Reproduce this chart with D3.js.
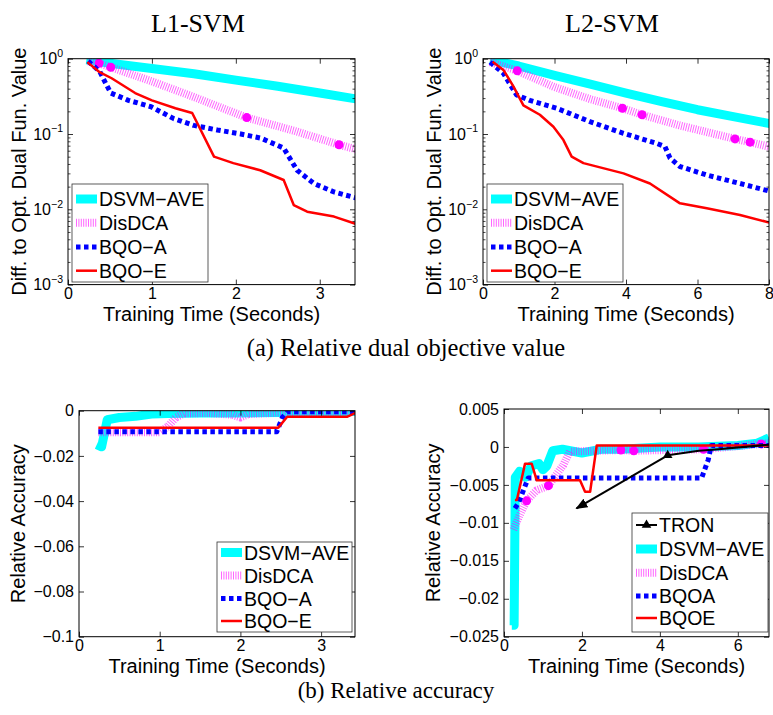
<!DOCTYPE html>
<html><head><meta charset="utf-8">
<script src="https://cdn.jsdelivr.net/npm/d3@7"></script>
<style>
body{margin:0;background:#fff;}
svg{display:block;}
text{fill:#000;}
</style></head><body>
<svg id="chart" width="773" height="715"></svg>
<script>
// ---------- DATA ----------
const seriesNames = ["DSVM\u2212AVE", "DisDCA", "BQO\u2212A", "BQO\u2212E"];
const seriesNamesAcc2 = ["TRON", "DSVM\u2212AVE", "DisDCA", "BQOA", "BQOE"];
const panelTitles = ["L1-SVM", "L2-SVM"];
const captions = ["(a) Relative dual objective value", "(b) Relative accuracy"];

// (a) L1-SVM dual objective gap
const dualL1_DSVM = [[0.22,0.97],[0.5,0.87],[1.0,0.74],[1.5,0.63],[2.0,0.52],[2.5,0.43],[3.0,0.35],[3.45,0.29]];
const dualL1_DisDCA = [[0.24,0.92],[0.37,0.87],[0.51,0.77],[1.0,0.50],[1.5,0.31],[2.13,0.165],[2.7,0.11],[3.23,0.072],[3.45,0.062]];
const dualL1_DisDCAmarks = [[0.37,0.87],[0.51,0.77],[2.13,0.165],[3.23,0.072]];
const dualL1_BQOA = [[0.24,0.93],[0.38,0.67],[0.45,0.47],[0.51,0.35],[0.72,0.28],[0.99,0.23],[1.26,0.16],[1.5,0.13],[1.78,0.113],[2.06,0.1],[2.3,0.088],[2.57,0.065],[2.73,0.033],[2.93,0.022],[3.17,0.017],[3.45,0.014]];
const dualL1_BQOE = [[0.23,0.9],[0.37,0.67],[0.52,0.55],[0.8,0.35],[1.0,0.28],[1.28,0.22],[1.48,0.19],[1.74,0.05],[1.97,0.041],[2.29,0.033],[2.57,0.0245],[2.69,0.0114],[2.85,0.0093],[3.17,0.008],[3.45,0.0063]];

// (a) L2-SVM dual objective gap
const dualL2_DSVM = [[0.2,0.97],[1,0.8],[2,0.6],[3,0.46],[4,0.35],[5,0.27],[6,0.21],[7,0.17],[8.1,0.135]];
const dualL2_DisDCA = [[0.2,0.9],[0.96,0.69],[2,0.42],[3.0,0.29],[3.9,0.22],[4.45,0.18],[5.5,0.13],[6.3,0.105],[7.05,0.086],[7.47,0.078],[8.1,0.066]];
const dualL2_DisDCAmarks = [[0.96,0.69],[3.9,0.22],[4.45,0.18],[7.05,0.086],[7.47,0.078]];
const dualL2_BQOA = [[0.2,0.9],[0.57,0.64],[0.94,0.33],[1.31,0.28],[2.06,0.22],[2.99,0.146],[3.93,0.102],[4.86,0.075],[5.09,0.068],[5.23,0.048],[5.51,0.037],[6.26,0.0285],[7.19,0.022],[8.1,0.017]];
const dualL2_BQOE = [[0.27,0.91],[0.57,0.71],[0.85,0.43],[1.13,0.24],[1.59,0.18],[1.97,0.125],[2.25,0.083],[2.48,0.05],[2.81,0.041],[3.93,0.03],[4.67,0.022],[5.51,0.012],[6.26,0.0103],[7.19,0.0084],[8.1,0.0065]];

// (b) L1-SVM relative accuracy
const accL1_DSVM = [[0.22,-0.015],[0.28,-0.016],[0.35,-0.004],[0.5,-0.003],[0.7,-0.0025],[0.9,-0.0015],[1.1,-0.0012],[1.5,-0.001],[2.0,-0.001],[2.5,-0.0008],[3.0,-0.0005],[3.45,-0.0003]];
const accL1_DisDCA = [[0.24,-0.0095],[1.0,-0.0095],[1.1,-0.007],[1.2,-0.003],[1.3,-0.0012],[1.6,-0.001],[1.9,-0.0018],[2.0,-0.003],[2.1,-0.0015],[2.5,-0.0008],[3.45,-0.0003]];
const accL1_BQOA = [[0.24,-0.0093],[2.45,-0.0093],[2.52,-0.003],[2.58,-0.0005],[3.45,-0.0005]];
const accL1_BQOE = [[0.24,-0.0075],[2.47,-0.0075],[2.58,-0.0027],[3.32,-0.0027],[3.45,-0.0006]];

// (b) L2-SVM relative accuracy
const accL2_TRON = [[4.2,-0.0011],[5.0,-0.0005],[5.5,-0.0003],[6.8,0.0003]];
const accL2_TRONarrow = [[4.2,-0.0011],[1.86,-0.0081]];
const accL2_DSVM = [[0.2,-0.0235],[0.26,-0.0235],[0.29,-0.004],[0.4,-0.0032],[0.55,-0.004],[0.7,-0.0025],[0.9,-0.0022],[1.0,-0.003],[1.1,-0.0025],[1.25,-0.0005],[1.5,-0.0003],[2.0,-0.0008],[2.5,-0.0003],[3,-0.0003],[4,0],[5,0],[6,0.0002],[6.5,0.0005],[6.8,0.0012]];
const accL2_DisDCA = [[0.24,-0.0109],[0.4,-0.009],[0.58,-0.0071],[0.84,-0.0057],[1.14,-0.0051],[1.52,-0.0024],[1.69,-0.0006],[3.0,-0.0004],[3.33,-0.0005],[5.12,-0.0003],[6.6,0.0004],[6.8,0.0005]];
const accL2_DisDCAmarks = [[0.58,-0.0071],[1.14,-0.0051],[3.0,-0.0004],[3.33,-0.0005],[5.12,-0.0003],[6.6,0.0004]];
const accL2_BQOA = [[0.28,-0.0081],[0.38,-0.0073],[0.62,-0.0041],[5.07,-0.0041],[5.24,-0.0017],[5.32,0.0002],[6.8,0.0002]];
const accL2_BQOE = [[0.28,-0.007],[0.33,-0.007],[0.54,-0.0022],[0.71,-0.0022],[0.84,-0.0044],[1.95,-0.0044],[2.08,-0.0059],[2.21,-0.0059],[2.38,0.0002],[6.8,0.0002]];

// tick values
const ticksX_L1 = [0,1,2,3];
const ticksX_L2dual = [0,2,4,6,8];
const ticksX_L2acc = [0,2,4,6];
const ticksY_log = [1e-3,1e-2,1e-1,1];
const ticksY_accL1 = [-0.1,-0.08,-0.06,-0.04,-0.02,0];
const ticksY_accL2 = [-0.025,-0.02,-0.015,-0.01,-0.005,0,0.005];

// ---------- STYLES ----------
const style = {
  "DSVM": {stroke:"#00ffff", width:9, dash:null, opacity:1},
  "DisDCA": {stroke:"#ff00ff", width:8, dash:"1,1.4", opacity:0.6},
  "BQOA": {stroke:"#0000ff", width:5, dash:"4.5,3.5", opacity:1},
  "BQOE": {stroke:"#ff0000", width:2.5, dash:null, opacity:1},
  "TRON": {stroke:"#000000", width:2, dash:null, opacity:1}
};
const SANS = "'Liberation Sans', Arial, Helvetica, sans-serif";
const SERIF = "'Liberation Serif', 'Times New Roman', serif";

const svg = d3.select("#chart");
const defs = svg.append("defs");
defs.append("marker").attr("id","arrowhead").attr("viewBox","0 0 10 10")
  .attr("refX",9).attr("refY",5).attr("markerWidth",12).attr("markerHeight",12)
  .attr("markerUnits","userSpaceOnUse").attr("orient","auto")
  .append("path").attr("d","M0,1 L10,5 L0,9 Z").attr("fill","#000");

const panels = [
  {box:[68,58.7,355,284.6], xDomain:[0,3.42], xTicks:ticksX_L1, log:true, yDomain:[1e-3,1], yTicks:ticksY_log,
   ylabel:"Diff. to Opt. Dual Fun. Value", ylabelX:26,
   series:[["DSVM",dualL1_DSVM],["DisDCA",dualL1_DisDCA],["BQOA",dualL1_BQOA],["BQOE",dualL1_BQOE]],
   marks:dualL1_DisDCAmarks, names:seriesNames, legend:{x:72,y:184,w:136,h:98,items:[199,222.7,247,270.7]}, keys:["DSVM","DisDCA","BQOA","BQOE"]},
  {box:[483,58.7,769,284.6], xDomain:[0,8], xTicks:ticksX_L2dual, log:true, yDomain:[1e-3,1], yTicks:ticksY_log,
   ylabel:"Diff. to Opt. Dual Fun. Value", ylabelX:441,
   series:[["DSVM",dualL2_DSVM],["DisDCA",dualL2_DisDCA],["BQOA",dualL2_BQOA],["BQOE",dualL2_BQOE]],
   marks:dualL2_DisDCAmarks, names:seriesNames, legend:{x:487,y:184,w:136,h:98,items:[199,222.7,247,270.7]}, keys:["DSVM","DisDCA","BQOA","BQOE"]},
  {box:[79,410.7,355,636.7], xDomain:[0,3.42], xTicks:ticksX_L1, log:false, yDomain:[-0.1,0], yTicks:ticksY_accL1,
   ylabel:"Relative Accuracy", ylabelX:25, yFmt:d3.format(".2~f"),
   series:[["DSVM",accL1_DSVM],["DisDCA",accL1_DisDCA],["BQOA",accL1_BQOA],["BQOE",accL1_BQOE]],
   marks:[], names:seriesNames, legend:{x:217,y:542,w:135,h:90,items:[552.5,575.5,598.5,621]}, keys:["DSVM","DisDCA","BQOA","BQOE"]},
  {box:[504,409,769,636.7], xDomain:[0,6.8], xTicks:ticksX_L2acc, log:false, yDomain:[-0.025,0.005], yTicks:ticksY_accL2,
   ylabel:"Relative Accuracy", ylabelX:440, yFmt:d3.format(".3~f"),
   series:[["DSVM",accL2_DSVM],["DisDCA",accL2_DisDCA],["BQOA",accL2_BQOA],["BQOE",accL2_BQOE],["TRON",accL2_TRON]],
   marks:accL2_DisDCAmarks, arrow:accL2_TRONarrow, names:seriesNamesAcc2,
   legend:{x:632,y:513,w:136,h:119,items:[525,549,572.7,596,618]}, keys:["TRON","DSVM","DisDCA","BQOA","BQOE"]}
];

panels.forEach((p,i)=>{
  const [x0,y0,x1,y1] = p.box;
  const x = d3.scaleLinear().domain(p.xDomain).range([x0,x1]);
  const y = (p.log ? d3.scaleLog() : d3.scaleLinear()).domain(p.yDomain).range([y1,y0]);
  const g = svg.append("g");
  const cid = "clip"+i;
  defs.append("clipPath").attr("id",cid).append("rect").attr("x",x0).attr("y",y0).attr("width",x1-x0).attr("height",y1-y0);

  // series
  const line = d3.line().x(d=>x(d[0])).y(d=>y(d[1]));
  const sg = g.append("g").attr("clip-path",`url(#${cid})`);
  p.series.forEach(([k,data])=>{
    const s = style[k];
    sg.append("path").attr("d",line(data)).attr("fill","none")
      .attr("stroke",s.stroke).attr("stroke-width",s.width)
      .attr("stroke-dasharray",s.dash).attr("stroke-opacity",s.opacity)
      .attr("stroke-linejoin","round");
    if(k==="DisDCA"){
      sg.selectAll(null).data(p.marks).enter().append("circle")
        .attr("cx",d=>x(d[0])).attr("cy",d=>y(d[1])).attr("r",4.5).attr("fill","#ff00ff");
    }
    if(k==="TRON"){
      sg.append("path").attr("d",d3.symbol(d3.symbolTriangle,40)())
        .attr("transform",`translate(${x(data[0][0])},${y(data[0][1])})`).attr("fill","#000");
    }
  });
  if(p.arrow){
    g.append("line").attr("x1",x(p.arrow[0][0])).attr("y1",y(p.arrow[0][1]))
      .attr("x2",x(p.arrow[1][0])).attr("y2",y(p.arrow[1][1]))
      .attr("stroke","#000").attr("stroke-width",2).attr("marker-end","url(#arrowhead)");
  }

  // box
  g.append("rect").attr("x",x0).attr("y",y0).attr("width",x1-x0).attr("height",y1-y0)
    .attr("fill","none").attr("stroke","#000").attr("stroke-width",1);

  // axes
  const tk = 5;
  const xb = g.append("g").attr("transform",`translate(0,${y1})`)
    .call(d3.axisBottom(x).tickValues(p.xTicks).tickSize(-tk).tickPadding(2).tickFormat(d3.format("~g")));
  const xt = g.append("g").attr("transform",`translate(0,${y0})`)
    .call(d3.axisTop(x).tickValues(p.xTicks).tickSize(-tk).tickFormat(""));
  const yl = g.append("g").attr("transform",`translate(${x0},0)`)
    .call(d3.axisLeft(y).tickValues(p.yTicks).tickSize(-tk).tickPadding(5).tickFormat(p.log? (()=> "") : p.yFmt));
  const yr = g.append("g").attr("transform",`translate(${x1},0)`)
    .call(d3.axisLeft(y).tickValues(p.yTicks).tickSize(tk).tickFormat(""));
  [xb,xt,yl,yr].forEach(a=>{
    a.select(".domain").remove();
    a.selectAll("line").attr("stroke","#000").attr("stroke-width",0.8);
    a.selectAll("text").attr("font-family",SANS).attr("font-size",16).attr("fill","#000");
  });
  xb.selectAll("text").attr("dy","0.75em");
  if(p.log){
    // minor ticks
    const minors = [];
    for(let e=-3;e<0;e++) for(let m=2;m<=9;m++) minors.push(m*Math.pow(10,e));
    [[x0,-2.5],[x1,2.5]].forEach(([xx,sz])=>{
      const a = g.append("g").attr("transform",`translate(${xx},0)`)
        .call(d3.axisLeft(y).tickValues(minors).tickSize(sz).tickFormat(""));
      a.select(".domain").remove();
      a.selectAll("line").attr("stroke","#000").attr("stroke-width",0.7);
    });
    // 10^k labels
    yl.selectAll(".tick text").each(function(d){
      const t = d3.select(this);
      t.text(null).attr("dy","0.32em");
      t.append("tspan").text("10");
      t.append("tspan").text(d3.format("")(Math.round(Math.log10(d))).replace("-","\u2212"))
        .attr("font-size",10.5).attr("dy","-0.7em");
    });
  }

  // axis labels
  g.append("text").attr("x",(x0+x1)/2).attr("y",y1+36).attr("text-anchor","middle")
    .attr("font-family",SANS).attr("font-size",20).text("Training Time (Seconds)");
  g.append("text").attr("transform",`translate(${p.ylabelX},${(y0+y1)/2}) rotate(-90)`)
    .attr("text-anchor","middle").attr("font-family",SANS).attr("font-size",20).text(p.ylabel);

  // legend
  const L = p.legend;
  const lg = g.append("g");
  lg.append("rect").attr("x",L.x).attr("y",L.y).attr("width",L.w).attr("height",L.h)
    .attr("fill","#fff").attr("stroke","#333").attr("stroke-width",0.8);
  p.keys.forEach((k,j)=>{
    const s = style[k], yy = L.items[j];
    lg.append("line").attr("x1",L.x+4).attr("x2",L.x+25).attr("y1",yy).attr("y2",yy)
      .attr("stroke",s.stroke).attr("stroke-width",s.width).attr("stroke-dasharray",s.dash)
      .attr("stroke-opacity",s.opacity);
    if(k==="TRON"){
      lg.append("path").attr("d",d3.symbol(d3.symbolTriangle,40)())
        .attr("transform",`translate(${L.x+14.5},${yy})`).attr("fill","#000");
    }
    lg.append("text").attr("x",L.x+27).attr("y",yy).attr("dy","0.36em")
      .attr("font-family",SANS).attr("font-size",19.5).text(p.names[j]);
  });
});

// titles
[[198,panelTitles[0]],[612,panelTitles[1]]].forEach(([cx,t])=>{
  svg.append("text").attr("x",cx).attr("y",32).attr("text-anchor","middle")
    .attr("font-family",SERIF).attr("font-size",26).text(t);
});
svg.append("text").attr("x",406).attr("y",356).attr("text-anchor","middle")
  .attr("font-family",SERIF).attr("font-size",24.5).text(captions[0]);
svg.append("text").attr("x",396).attr("y",698).attr("text-anchor","middle")
  .attr("font-family",SERIF).attr("font-size",23).text(captions[1]);
</script></body></html>
